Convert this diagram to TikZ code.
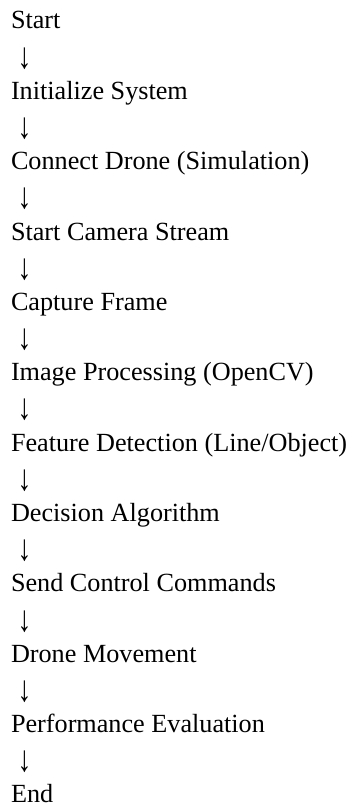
\documentclass[tikz,border=0pt]{standalone}
\usepackage{fontspec}
\setmainfont{Liberation Serif}
\usepackage{tikz}

\begin{document}
\begin{tikzpicture}[x=1bp, y=1bp]
  \begin{scope}[every node/.style={inner sep=0, outer sep=0, anchor=base west, font=\fontsize{26.3}{35}\selectfont}, downmark/.style={xshift=6.6bp}]
    \useasboundingbox (0,0) rectangle (354,808);
    \foreach \txt [count=\i] in {Start, Initialize System, Connect Drone (Simulation), Start Camera Stream, Capture Frame, Image Processing (OpenCV), Feature Detection (Line/Object), Decision Algorithm, Send Control Commands, Drone Movement, Performance Evaluation, End} {
      \node (step\i) at ({11}, {779-70.36*(\i-1)}) {\txt};
    }
    \foreach \i in {1,...,11} {\node [downmark] (down\i) at ({11}, {779-70.36*(\i-1)-35.18}) {\raisebox{-4bp}{\scalebox{1.05}[1.4]{↓}}};}
  \end{scope}
\end{tikzpicture}
\end{document}
